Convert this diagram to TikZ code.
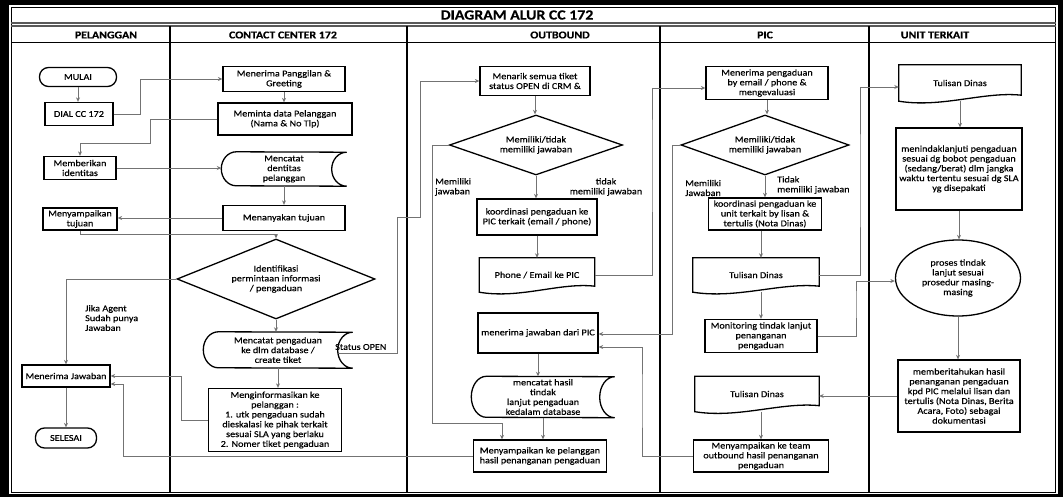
\documentclass[tikz,border=0pt]{standalone}
\usepackage{fontspec}
\setmainfont{Carlito}[FakeStretch=1.13, FakeBold=0.35]
\usetikzlibrary{shapes.geometric,arrows.meta,calc}

\tikzset{
  x=1pt, y=1pt,
  bodyfont/.style={font=\fontsize{9}{9.8}\selectfont},
  box/.style={draw=black, line width=1.3pt, align=center, inner sep=1pt, bodyfont},
  procbox/.style={box, rectangle},
  term/.style={box, rounded corners=9pt},
  decision/.style={box, diamond, inner sep=0pt},
  oval/.style={box, ellipse, inner sep=0pt},
  shapetext/.style={align=center, inner sep=1pt, bodyfont},
  outline/.style={draw=black, line width=1.3pt},
  conn/.style={draw=black!55, line width=0.8pt, -{Stealth[length=4.5pt,width=4pt]}},
  lbl/.style={inner sep=0pt, bodyfont},
  lanehead/.style={inner sep=0pt, font=\bfseries\fontsize{10.5}{12}\selectfont},
}

% stored-data symbol: name, x, y (downwards), width, height, text
\newcommand\storednode[6]{%
  \node[shapetext, minimum width=#4pt, minimum height=#5pt] (#1) at (#2,-#3) {#6};
  \draw[outline] ($(#1.north west)+(15,0)$)
    arc[start angle=90, end angle=270, x radius=15pt, y radius=#5pt/2]
    -- (#1.south east)
    arc[start angle=270, end angle=90, x radius=15pt, y radius=#5pt/2]
    -- cycle;
}
% document symbol with wavy lower edge: name, x, y (downwards), width, height, text
\newcommand\docnode[6]{%
  \node[shapetext, minimum width=#4pt, minimum height=#5pt] (#1) at (#2,-#3) {#6};
  \draw[outline] (#1.south west) -- (#1.north west) -- (#1.north east)
    -- ([yshift=6pt]#1.south east)
    .. controls ([xshift=-0.3*#4pt, yshift=10pt]#1.south east)
    and ([xshift=0.35*#4pt, yshift=-7pt]#1.south west) .. (#1.south west) -- cycle;
}

\begin{document}
\begin{tikzpicture}
% page and frame
\fill[black] (0,0) rectangle (1063,-497);
\fill[white] (9,-5) rectangle (1058,-494);
\useasboundingbox (0,0) rectangle (1063,-497);
\draw[line width=1.6pt] (11.5,-7.5) rectangle (1055.5,-492.5);
\draw[black!65, line width=1.4pt] (11,-23) -- (1056,-23);
\draw[black!65, line width=1.4pt] (11,-26) -- (1056,-26);
\draw[line width=1pt] (11,-43) -- (1056,-43);
\foreach \x in {170,407,660,869} \draw[line width=2.2pt] (\x,-26) -- (\x,-492);

% titles
\node[inner sep=0pt, font=\bfseries\fontsize{14}{16}\selectfont] (title) at (517,-15) {DIAGRAM ALUR CC 172};
\node[lanehead] (h1) at (106,-35) {PELANGGAN};
\node[lanehead] (h2) at (283,-35) {CONTACT CENTER 172};
\node[lanehead] (h3) at (560,-35) {OUTBOUND};
\node[lanehead] (h4) at (765,-35) {PIC};
\node[lanehead] (h5) at (935,-35) {UNIT TERKAIT};

% PELANGGAN
\node[term, minimum width=77pt, minimum height=19pt] (mulai) at (78,-77) {MULAI};
\node[procbox, minimum width=68pt, minimum height=23pt] (dial) at (79,-114) {DIAL CC 172};
\node[procbox, minimum width=72pt, minimum height=23pt] (beri) at (80,-168) {Memberikan\\identitas};
\node[procbox, minimum width=74pt, minimum height=22pt] (sampaitj) at (80,-219) {Menyampaikan\\tujuan};
\node[procbox, minimum width=88pt, minimum height=22pt] (jawab) at (66,-376) {Menerima Jawaban};
\node[term, minimum width=61pt, minimum height=20pt] (selesai) at (66,-438) {SELESAI};
\node[lbl, align=left, anchor=west] (jika) at (85,-318) {Jika Agent\\Sudah punya\\Jawaban};

% CONTACT CENTER 172
\node[procbox, minimum width=122pt, minimum height=25pt] (greet) at (284,-79) {Menerima Panggilan \&\\Greeting};
\node[procbox, minimum width=134pt, minimum height=32pt] (minta) at (285,-119) {Meminta data Pelanggan\\(Nama \& No Tlp)};
\storednode{catatid}{284}{169}{125}{34}{Mencatat\\dentitas\\pelanggan}
\node[procbox, minimum width=122pt, minimum height=25pt] (tanya) at (284,-218) {Menanyakan tujuan};
\node[decision, aspect=2.5, minimum width=198pt, minimum height=80pt] (ident) at (276,-279) {Identifikasi\\permintaan informasi\\/ pengaduan};
\storednode{catatpg}{278}{350}{149}{36}{Mencatat pengaduan\\ke dlm database /\\create tiket}
\node[procbox, minimum width=133pt, minimum height=63pt] (inform) at (275,-420) {Menginformasikan ke\\pelanggan :\\1. utk pengaduan sudah\\dieskalasi ke pihak terkait\\sesuai SLA yang berlaku\\2. Nomer tiket pengaduan};
\node[lbl, anchor=west] (status) at (335,-347) {Status OPEN};

% OUTBOUND
\node[procbox, minimum width=110pt, minimum height=29pt] (tarik) at (535,-81) {Menarik semua tiket\\status OPEN di CRM \&};
\node[decision, aspect=2.9, minimum width=173pt, minimum height=60pt] (obdia) at (536,-145) {Memiliki/tidak\\memiliki jawaban};
\node[procbox, minimum width=120pt, minimum height=36pt] (koordob) at (537,-217) {koordinasi pengaduan ke\\PIC terkait (email / phone)};
\docnode{phone}{537}{275}{115}{34}{Phone / Email ke PIC}
\node[procbox, minimum width=120pt, minimum height=40pt] (terimaob) at (538,-333) {menerima jawaban dari PIC};
\storednode{hasil}{543}{397}{143}{41}{mencatat hasil\\tindak\\lanjut pengaduan\\kedalam database}
\node[procbox, minimum width=133pt, minimum height=32pt] (sampaiplg) at (540,-456) {Menyampaikan ke pelanggan\\hasil penanganan pengaduan};
\node[lbl, align=left, anchor=west] (obyes) at (435,-187) {Memiliki\\jawaban};
\node[lbl, align=center] (obno) at (606,-187) {tidak\\memiliki jawaban};

% PIC
\node[procbox, minimum width=122pt, minimum height=33pt] (picterima) at (767,-83) {Menerima pengaduan\\by email / phone \&\\mengevaluasi};
\node[decision, aspect=2.8, minimum width=168pt, minimum height=60pt] (picdia) at (765,-145) {Memiliki/tidak\\memiliki jawaban};
\node[procbox, minimum width=113pt, minimum height=32pt] (koordpic) at (765,-214) {koordinasi pengaduan ke\\unit terkait by lisan \&\\tertulis (Nota Dinas)};
\docnode{tulisan1}{756}{275}{126}{34}{Tulisan Dinas}
\node[procbox, minimum width=112pt, minimum height=33pt] (monitor) at (761,-336) {Monitoring tindak lanjut\\penanganan\\pengaduan};
\docnode{tulisan2}{757}{394}{124}{35}{Tulisan Dinas}
\node[procbox, minimum width=135pt, minimum height=32pt] (sampaiob) at (761,-456) {Menyampaikan ke team\\outbound hasil penanganan\\pengaduan};
\node[lbl, align=left, anchor=west] (picyes) at (685,-188) {Memiliki\\Jawaban};
\node[lbl, align=left, anchor=west] (picno) at (777,-185) {Tidak\\memiliki jawaban};

% UNIT TERKAIT
\docnode{tulisan3}{960}{83}{122}{36}{Tulisan Dinas}
\node[procbox, minimum width=126pt, minimum height=82pt] (lanjut) at (959,-169) {menindaklanjuti pengaduan\\sesuai dg bobot pengaduan\\(sedang/berat) dlm jangka\\waktu tertentu sesuai dg SLA\\yg disepakati};
\node[oval, minimum width=125pt, minimum height=76pt] (proses) at (958,-278) {proses tindak\\lanjut sesuai\\prosedur masing-\\masing};
\node[procbox, minimum width=122pt, minimum height=72pt] (beritahu) at (959,-396) {memberitahukan hasil\\penanganan pengaduan\\kpd PIC melalui lisan dan\\tertulis (Nota Dinas, Berita\\Acara, Foto) sebagai\\dokumentasi};

% connectors: pelanggan and contact center
\draw[conn] (mulai.south) -- (mulai.south |- dial.north);
\draw[conn] (dial.east) -- ++(27,0) |- (greet.west);
\draw[conn] (greet.south) -- (greet.south |- minta.north);
\draw[conn] (minta.west) -| (150,-143) -| (beri.north);
\draw[conn] (beri.east) -- (beri.east -| catatid.west);
\draw[conn] (catatid.south) -- (catatid.south |- tanya.north);
\draw[conn] (tanya.west) -- (tanya.west -| sampaitj.east);
\draw[conn] (sampaitj.south) -- ++(0,-4) -| (ident.north);
\draw[conn] (ident.west) -| (jawab.north);
\draw[conn] (ident.south) -- (ident.south |- catatpg.north);
\draw[conn] (catatpg.south) -- (catatpg.south |- inform.north);
\draw[conn] (inform.west) -- ++(-26,0) |- (jawab.east);
\draw[conn] (jawab.south) -- (jawab.south |- selesai.north);
\draw[conn] (sampaiplg.west) -- ++(-349,0) |- ([yshift=-8pt]jawab.east);
\draw[conn] ([xshift=-14pt,yshift=-3pt]catatpg.east) -| (397,-217) -- (420,-217) |- (tarik.west);

% connectors: outbound
\draw[conn] (tarik.south) -- (tarik.south |- obdia.north);
\draw[conn] (obdia.south) -- (obdia.south |- koordob.north);
\draw[conn] (obdia.west) -| (432,-423) -| ([xshift=-38pt]sampaiplg.north);
\draw[conn] (koordob.south) -- (koordob.south |- phone.north);
\draw[conn] (phone.east) -| (652,-150) |- ([yshift=-5pt]picterima.west);
\draw[conn] (terimaob.south) -- (terimaob.south |- hasil.north);
\draw[conn] (hasil.south) -- (hasil.south |- sampaiplg.north);

% connectors: PIC
\draw[conn] (picterima.south) -- (picterima.south |- picdia.north);
\draw[conn] (picdia.south) -- (picdia.south |- koordpic.north);
\draw[conn] (picdia.west) -- ++(-8,0) |- ([yshift=-1pt]terimaob.east);
\draw[conn] (sampaiob.west) -| (642,-400) |- ([yshift=-14pt]terimaob.east);
\draw[conn] (koordpic.south -| monitor.north) -- (monitor.north |- tulisan1.north);
\draw[conn] (tulisan1.south -| monitor.north) -- (monitor.north);
\draw[conn] (tulisan1.east) -| (860,-180) |- ([yshift=-4pt]tulisan3.west);
\draw[conn] (monitor.east) -| (856,-300) |- ([yshift=-3pt]proses.west);
\draw[conn] (tulisan2.south -| sampaiob.north) -- (sampaiob.north);
\draw[conn] (beritahu.west) -- (beritahu.west -| tulisan2.east);

% connectors: unit terkait
\draw[conn] (tulisan3.south) -- (tulisan3.south |- lanjut.north);
\draw[conn] (lanjut.south) -- (lanjut.south |- proses.north);
\draw[conn] (proses.south) -- (proses.south |- beritahu.north);
\end{tikzpicture}
\end{document}
